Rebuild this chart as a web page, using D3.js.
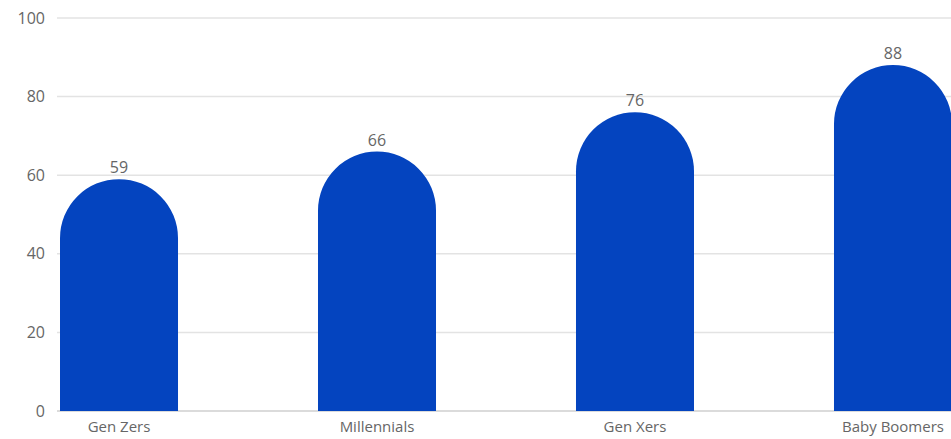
<!DOCTYPE html>
<html>
<head>
<meta charset="utf-8">
<script src="https://cdn.jsdelivr.net/npm/d3@7"></script>
<style>
  body { margin: 0; background: #fff; }
  text { font-family: "Open Sans", sans-serif; fill: #666; }
</style>
</head>
<body>
<div id="chart"></div>
<script>
// Data
var generations = ['Gen Zers', 'Millennials', 'Gen Xers', 'Baby Boomers'];
var values = [59, 66, 76, 88];
var yTicks = [0, 20, 40, 60, 80, 100];

var width = 951, height = 439;

var svg = d3.select('#chart').append('svg')
    .attr('width', width)
    .attr('height', height);

// Scales
var xScale = d3.scaleBand()
    .domain(generations)
    .range([60, 952])
    .paddingInner(0.5426)
    .paddingOuter(0);

var yScale = d3.scaleLinear()
    .domain([0, 100])
    .range([411, 18]);

// Gridlines
svg.selectAll('.grid')
    .data(yTicks)
    .enter()
    .append('line')
    .attr('class', 'grid')
    .attr('x1', 57)
    .attr('x2', width)
    .attr('y1', function(d) { return yScale(d); })
    .attr('y2', function(d) { return yScale(d); })
    .style('stroke', function(d) { return d === 0 ? '#cfcfcf' : '#e3e3e3'; })
    .style('stroke-width', 1.5);

// Y axis labels
svg.selectAll('.ylab')
    .data(yTicks)
    .enter()
    .append('text')
    .attr('class', 'ylab')
    .attr('x', 45)
    .attr('y', function(d) { return yScale(d); })
    .attr('dy', '0.35em')
    .attr('text-anchor', 'end')
    .style('font-size', '16px')
    .text(function(d) { return d; });

// Bars with round tops
var data = generations.map(function(g, i) { return {name: g, value: values[i]}; });

function barPath(d) {
    var x0 = xScale(d.name), w = xScale.bandwidth(), r = w / 2;
    var y0 = yScale(0), yt = yScale(d.value);
    var p = d3.path();
    p.moveTo(x0, y0);
    p.lineTo(x0, yt + r);
    p.arc(x0 + r, yt + r, r, Math.PI, 2 * Math.PI);
    p.lineTo(x0 + w, y0);
    p.closePath();
    return p.toString();
}

svg.selectAll('.bar')
    .data(data)
    .enter()
    .append('path')
    .attr('class', 'bar')
    .attr('d', barPath)
    .style('fill', '#0444bf');

// Value labels
svg.selectAll('.val')
    .data(data)
    .enter()
    .append('text')
    .attr('class', 'val')
    .attr('x', function(d) { return xScale(d.name) + xScale.bandwidth() / 2; })
    .attr('y', function(d) { return yScale(d.value) - 6; })
    .attr('text-anchor', 'middle')
    .style('font-size', '16px')
    .text(function(d) { return d.value; });

// X labels
svg.selectAll('.xlab')
    .data(generations)
    .enter()
    .append('text')
    .attr('class', 'xlab')
    .attr('x', function(d) { return xScale(d) + xScale.bandwidth() / 2; })
    .attr('y', 432)
    .attr('text-anchor', 'middle')
    .style('font-size', '15px')
    .text(function(d) { return d; });
</script>
</body>
</html>
